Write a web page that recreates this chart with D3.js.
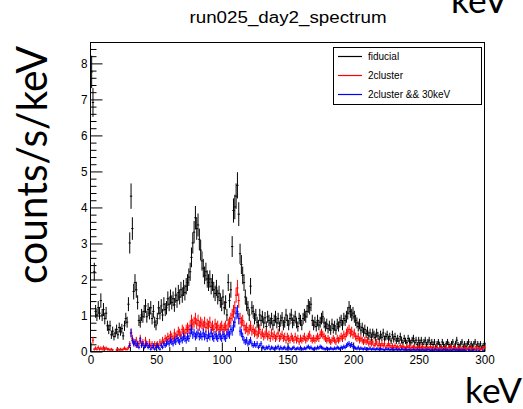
<!DOCTYPE html>
<html><head><meta charset="utf-8">
<script src="https://cdn.jsdelivr.net/npm/d3@7"></script>
<style>
html,body{margin:0;padding:0;background:#fff;}
svg{display:block;}
</style></head>
<body>
<svg id="c" width="523" height="409"></svg>
<script>
// ---- data (1 keV bins, 0..300 keV) ----
const binEdges = [0, 300];
const xTickValues = [0, 50, 100, 150, 200, 250, 300];
const yTickValues = [0, 1, 2, 3, 4, 5, 6, 7, 8];
const seriesNames = ["fiducial", "2cluster", "2cluster && 30keV"];
const seriesColors = ["#000000", "#ff0000", "#0000ff"];

const fiducial = [
7.75,6.9,2.2,1.1,1.0,1.2,1.05,1.4,1.0,1.15,
0.9,1.05,0.7,0.6,0.7,0.45,0.55,0.4,0.5,0.6,
0.45,0.65,0.55,0.62,0.42,0.7,0.9,0.8,1.3,3.0,
4.3,3.4,1.65,1.9,1.7,1.35,0.85,0.8,1.0,0.95,
1.1,1.25,0.95,1.15,1.05,1.2,0.9,1.1,0.8,0.72,
0.9,1.2,1.05,1.25,1.0,1.3,1.15,1.2,1.45,1.3,
1.5,1.35,1.45,1.28,1.55,1.4,1.62,1.5,1.7,1.55,
1.75,1.62,1.8,1.9,2.05,2.2,2.6,3.0,3.3,3.7,
3.4,3.5,3.1,2.8,2.5,2.3,2.1,2.2,2.0,1.9,
2.0,1.8,1.9,1.7,1.6,1.75,1.5,1.6,1.4,1.3,
1.5,1.2,1.35,1.0,1.9,1.4,1.7,2.9,3.9,4.0,
4.3,4.6,3.8,2.7,2.4,2.1,1.9,1.5,1.3,1.2,
1.0,1.8,1.2,1.1,0.9,1.0,0.8,0.72,1.0,0.85,
0.95,0.78,0.92,0.68,0.95,0.85,0.78,0.9,0.72,0.85,
0.95,0.78,0.9,0.68,0.85,0.92,0.72,0.8,1.0,0.85,
0.72,0.9,1.0,0.78,0.85,0.95,0.78,0.68,0.9,0.85,
0.72,0.9,1.0,0.95,1.1,1.25,1.2,1.3,0.85,0.72,
0.8,0.68,0.85,0.72,0.8,0.9,0.95,0.78,0.68,0.75,
0.62,0.7,0.58,0.75,0.62,0.7,0.58,0.75,0.68,0.8,
0.85,0.72,0.9,0.85,0.95,1.05,1.2,1.1,1.0,1.05,
0.95,0.85,0.78,0.68,0.75,0.58,0.65,0.52,0.6,0.48,
0.55,0.42,0.5,0.38,0.5,0.45,0.38,0.5,0.42,0.33,
0.45,0.38,0.5,0.33,0.4,0.45,0.33,0.4,0.28,0.45,
0.33,0.4,0.28,0.35,0.28,0.4,0.3,0.23,0.35,0.28,
0.23,0.35,0.28,0.23,0.3,0.35,0.23,0.3,0.18,0.3,
0.23,0.3,0.18,0.25,0.3,0.18,0.25,0.3,0.18,0.25,
0.18,0.25,0.13,0.2,0.25,0.18,0.13,0.25,0.18,0.13,
0.2,0.25,0.18,0.13,0.2,0.25,0.13,0.2,0.3,0.18,
0.13,0.2,0.25,0.13,0.2,0.13,0.2,0.25,0.13,0.2,
0.13,0.2,0.25,0.13,0.2,0.13,0.2,0.1,0.15,0.2
];

const twoCluster = [
0,0.3,0.05,0.08,0.05,0.1,0.05,0.08,0.05,0.1,
0.05,0.08,0.05,0.05,0.03,0.05,0.03,0,0,0.03,
0.05,0.03,0.05,0.03,0.05,0.08,0.05,0.05,0.1,0.2,
0.5,0.35,0.25,0.2,0.3,0.15,0.2,0.35,0.2,0.25,
0.15,0.3,0.2,0.15,0.25,0.15,0.2,0.1,0.2,0.15,
0.2,0.15,0.25,0.2,0.3,0.25,0.35,0.3,0.4,0.35,
0.45,0.4,0.35,0.5,0.4,0.45,0.55,0.5,0.45,0.6,
0.55,0.5,0.6,0.65,0.6,0.7,0.85,0.75,0.8,0.9,
0.75,0.85,0.7,0.8,0.75,0.7,0.8,0.65,0.75,0.7,
0.8,0.65,0.7,0.6,0.75,0.65,0.7,0.6,0.65,0.7,
0.6,0.65,0.7,0.6,0.75,0.8,0.9,1.0,1.1,1.2,
1.55,1.75,1.4,0.9,0.8,0.85,0.7,0.6,0.65,0.55,
0.6,0.7,0.55,0.6,0.5,0.55,0.45,0.5,0.6,0.45,
0.5,0.4,0.45,0.5,0.4,0.45,0.35,0.5,0.4,0.45,
0.35,0.4,0.5,0.35,0.4,0.45,0.35,0.4,0.3,0.4,
0.35,0.3,0.4,0.35,0.3,0.4,0.3,0.35,0.25,0.35,
0.3,0.35,0.4,0.3,0.35,0.4,0.45,0.35,0.3,0.35,
0.3,0.35,0.4,0.35,0.45,0.5,0.45,0.4,0.35,0.3,
0.35,0.3,0.25,0.3,0.35,0.3,0.25,0.35,0.3,0.35,
0.4,0.35,0.45,0.4,0.5,0.55,0.6,0.5,0.55,0.45,
0.5,0.4,0.35,0.4,0.3,0.35,0.3,0.25,0.3,0.25,
0.3,0.2,0.25,0.2,0.25,0.15,0.2,0.25,0.15,0.2,
0.15,0.2,0.15,0.2,0.1,0.15,0.2,0.15,0.1,0.15,
0.1,0.15,0.1,0.12,0.08,0.15,0.1,0.12,0.1,0.08,
0.12,0.1,0.15,0.08,0.1,0.12,0.1,0.08,0.1,0.12,
0.08,0.1,0.12,0.08,0.1,0.06,0.1,0.08,0.12,0.08,
0.1,0.06,0.08,0.1,0.06,0.08,0.1,0.08,0.06,0.1,
0.08,0.06,0.1,0.08,0.12,0.06,0.08,0.1,0.06,0.08,
0.1,0.06,0.08,0.05,0.1,0.08,0.06,0.08,0.05,0.1,
0.06,0.08,0.05,0.1,0.06,0.08,0.05,0.06,0.08,0.1
];

const twoCluster30 = [
0,0,0,0,0,0,0,0,0,0,
0,0,0,0,0,0,0,0,0,0,
0,0,0,0,0,0,0,0,0,0.15,
0.5,0.3,0.2,0.25,0.15,0.2,0.1,0.3,0.15,0.2,
0.1,0.15,0.2,0.1,0.15,0.05,0.1,0.15,0.05,0.1,
0.15,0.1,0.05,0.15,0.1,0.2,0.15,0.2,0.25,0.2,
0.3,0.25,0.2,0.3,0.25,0.35,0.3,0.25,0.35,0.3,
0.4,0.35,0.3,0.4,0.35,0.5,0.6,0.45,0.5,0.4,
0.45,0.5,0.4,0.45,0.4,0.5,0.4,0.45,0.35,0.45,
0.4,0.5,0.4,0.35,0.45,0.4,0.35,0.45,0.4,0.35,
0.45,0.4,0.35,0.45,0.5,0.45,0.6,0.55,0.7,0.8,
1.05,1.1,0.9,0.55,0.5,0.4,0.3,0.25,0.3,0.2,
0.25,0.3,0.2,0.15,0.2,0.15,0.2,0.1,0.15,0.2,
0.1,0.1,0.05,0.1,0.08,0.12,0.05,0.1,0.08,0.05,
0.1,0.08,0.12,0.05,0.1,0.06,0.08,0.1,0.05,0.08,
0.1,0.06,0.05,0.08,0.1,0.05,0.06,0.08,0.05,0.1,
0.06,0.05,0.08,0.06,0.1,0.12,0.08,0.1,0.06,0.05,
0.08,0.06,0.1,0.08,0.12,0.1,0.08,0.06,0.05,0.08,
0.06,0.05,0.08,0.06,0.05,0.08,0.06,0.1,0.08,0.06,
0.1,0.08,0.12,0.1,0.15,0.18,0.2,0.15,0.18,0.12,
0.1,0.08,0.06,0.1,0.05,0.08,0.06,0.05,0.08,0.04,
0.06,0.05,0.08,0.04,0.06,0.05,0.04,0.06,0.05,0.04,
0.06,0.05,0.04,0.03,0.05,0.04,0.06,0.03,0.04,0.05,
0.03,0.04,0.05,0.03,0.04,0.03,0.05,0.04,0.03,0.04,
0.03,0.03,0.04,0.02,0.03,0.04,0.03,0.02,0.04,0.03,
0.02,0.03,0.04,0.02,0.03,0.02,0.04,0.03,0.02,0.03,
0.02,0.03,0.04,0.02,0.03,0.02,0.03,0.02,0.04,0.03,
0.02,0.03,0.02,0.03,0.02,0.03,0.04,0.02,0.03,0.02,
0.03,0.02,0.03,0.02,0.03,0.02,0,0.03,0.02,0,
0.02,0.03,0,0.02,0,0.02,0,0,0.02,0
];
// first bins of fiducial have explicit error bars
const fiducialErrOverride = [[0, 0.45], [1, 0.4]];
const errScale = 0.17; // error ~ errScale*sqrt(value)

// ---- drawing ----
const svg = d3.select("#c");
const L = 90, R = 484, T = 42, B = 351;
const x = d3.scaleLinear().domain(binEdges).range([L, R]);
const y = d3.scaleLinear().domain([0, 8.58]).range([B, T]);

// title
svg.append("text").attr("x", 288).attr("y", 23).attr("text-anchor", "middle")
  .attr("font-family", "Liberation Sans, Arial, sans-serif").attr("font-size", 16)
  .attr("textLength", 197).attr("lengthAdjust", "spacingAndGlyphs")
  .text("run025_day2_spectrum");

// big annotation labels
svg.append("text").attr("transform", "translate(47,165) rotate(-90)").attr("text-anchor", "middle")
  .attr("font-family", "Lato, sans-serif").attr("font-size", 42)
  .attr("textLength", 238).attr("lengthAdjust", "spacingAndGlyphs")
  .text("counts/s/keV");
svg.append("text").attr("x", 465).attr("y", 403)
  .attr("font-family", "Lato, sans-serif").attr("font-size", 35)
  .attr("textLength", 57).attr("lengthAdjust", "spacingAndGlyphs").text("keV");
svg.append("text").attr("x", 451).attr("y", 13)
  .attr("font-family", "Lato, sans-serif").attr("font-size", 35)
  .attr("textLength", 57).attr("lengthAdjust", "spacingAndGlyphs").text("keV");

// frame
svg.append("rect").attr("x", L + 0.5).attr("y", T + 0.5).attr("width", R - L).attr("height", B - T)
  .attr("fill", "none").attr("stroke", "#000").attr("stroke-width", 1);

const tickFont = g => g.selectAll("text")
  .attr("font-family", "Liberation Sans, Arial, sans-serif").attr("font-size", 13.5)
  .attr("fill", "#000")
  .attr("textLength", d => String(d).length * 6.5).attr("lengthAdjust", "spacingAndGlyphs");

// x axis: minor + major
const xMinor = d3.range(0, 301, 10).filter(v => v % 50 !== 0);
svg.append("g").attr("transform", `translate(0.5,${B + 0.5})`)
  .call(d3.axisBottom(x).tickValues(xMinor).tickSize(-4.5).tickFormat(""))
  .call(g => g.select(".domain").remove());
svg.append("g").attr("transform", `translate(0.5,${B + 0.5})`)
  .call(d3.axisBottom(x).tickValues(xTickValues).tickSize(-9).tickPadding(3).tickFormat(d3.format("d")))
  .call(g => g.select(".domain").remove())
  .call(tickFont);

// y axis: minor + major
const yMinor = d3.range(0, 43).map(i => i * 0.2).filter(v => Math.abs(v - Math.round(v)) > 1e-6 && v <= 8.58);
svg.append("g").attr("transform", `translate(${L + 0.5},0.5)`)
  .call(d3.axisLeft(y).tickValues(yMinor).tickSize(-6).tickFormat(""))
  .call(g => g.select(".domain").remove());
svg.append("g").attr("transform", `translate(${L + 0.5},0.5)`)
  .call(d3.axisLeft(y).tickValues(yTickValues).tickSize(-12).tickPadding(3).tickFormat(d3.format("d")))
  .call(g => g.select(".domain").remove())
  .call(tickFont);

// histograms with error bars
const allSeries = [fiducial, twoCluster, twoCluster30];
allSeries.forEach((vals, si) => {
  const ov = new Map(si === 0 ? fiducialErrOverride : []);
  const pts = vals.map((v, i) => ({ i, v, e: ov.has(i) ? ov.get(i) : errScale * Math.sqrt(v) }))
    .filter(d => d.v > 0);
  const g = svg.append("g").attr("stroke", seriesColors[si]).attr("stroke-width", 1).attr("fill", "none");
  g.selectAll("line.v").data(pts).join("line").attr("class", "v")
    .attr("x1", d => x(d.i + 0.5) + 1).attr("x2", d => x(d.i + 0.5) + 1)
    .attr("y1", d => y(Math.max(0, d.v - d.e))).attr("y2", d => Math.max(T, y(d.v + d.e)));
  g.selectAll("line.h").data(pts).join("line").attr("class", "h")
    .attr("x1", d => x(d.i) + 0.5).attr("x2", d => x(d.i + 1) + 1.5)
    .attr("y1", d => y(d.v)).attr("y2", d => y(d.v));
});

// legend
const lg = svg.append("g");
lg.append("rect").attr("x", 333.5).attr("y", 47.5).attr("width", 148).attr("height", 57)
  .attr("fill", "#fff").attr("stroke", "#000").attr("stroke-width", 1);
seriesNames.forEach((name, i) => {
  const yy = 56 + i * 19;
  lg.append("line").attr("x1", 338).attr("x2", 362).attr("y1", yy + 0.5).attr("y2", yy + 0.5)
    .attr("stroke", seriesColors[i]).attr("stroke-width", 1.2);
  lg.append("text").attr("x", 368).attr("y", yy).attr("dy", "0.35em")
    .attr("font-family", "Liberation Sans, Arial, sans-serif").attr("font-size", 10).attr("fill", "#000")
    .text(name);
});
</script>
</body></html>
